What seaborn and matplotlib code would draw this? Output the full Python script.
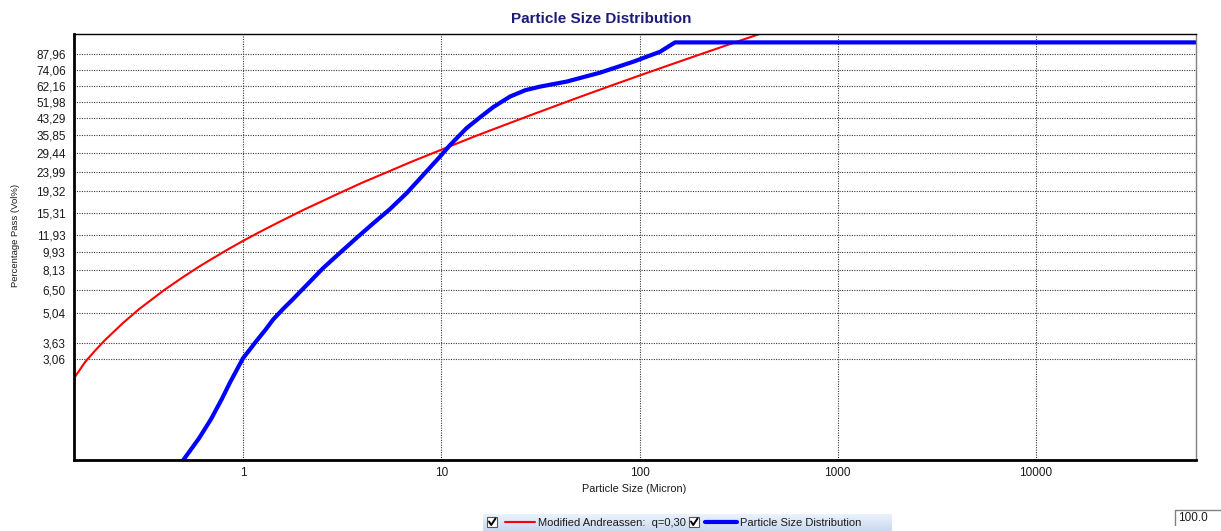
import numpy as np
import pandas as pd
import matplotlib
matplotlib.use("Agg")
import matplotlib.pyplot as plt
import seaborn as sns
from matplotlib.ticker import FixedLocator, NullLocator, FixedFormatter
from matplotlib.patches import Rectangle
from matplotlib.lines import Line2D

# Modified Andreassen model curve (q = 0.30)
andreassen_size = [0.14, 0.16, 0.18, 0.2, 0.25, 0.3, 0.4, 0.5, 0.6, 0.7, 0.85,
                   1, 1.2, 1.5, 2, 3, 4, 5, 7, 10, 15, 20, 30, 50, 70, 100,
                   150, 200, 300, 450]
andreassen_pass = [2.45, 2.95, 3.35, 3.73, 4.56, 5.29, 6.51, 7.53, 8.43, 9.21,
                   10.27, 11.2, 12.29, 13.7, 15.7, 18.8, 21.3, 23.3, 26.7,
                   30.6, 35.7, 39.6, 45.8, 54.8, 61.5, 69.4, 79.4, 87.3, 99.7,
                   113.7]

# Measured particle size distribution
psd_size = [0.50, 0.60, 0.69, 0.78, 0.86, 0.93, 1.0, 1.08, 1.17, 1.30, 1.42,
            1.60, 1.79, 2.00, 2.25, 2.54, 3.09, 3.75, 4.54, 5.51, 6.70, 8.12,
            9.86, 11.1, 13.4, 15.7, 18.3, 22.2, 26.5, 31.5, 42.9, 63.2, 93.0,
            127, 151, 64100]
psd_pass = [1.0, 1.27, 1.57, 1.95, 2.35, 2.70, 3.07, 3.37, 3.72, 4.21, 4.71,
            5.31, 5.90, 6.58, 7.38, 8.31, 9.84, 11.6, 13.6, 15.9, 19.0, 23.2,
            28.4, 32.3, 38.8, 43.8, 49.0, 55.0, 59.0, 61.4, 64.9, 71.6, 80.8,
            90.2, 100, 100]

series_names = ["Modified Andreassen:  q=0,30", "Particle Size Distribution"]
y_ticks = [3.06, 3.63, 5.04, 6.50, 8.13, 9.93, 11.93, 15.31, 19.32, 23.99,
           29.44, 35.85, 43.29, 51.98, 62.16, 74.06, 87.96]
x_ticks = [1, 10, 100, 1000, 10000]
x_tick_labels = ["1", "10", "100", "1000", "10000"]

W, H = 1221, 531

sns.set_theme(style="white")
plt.rcParams['font.family'] = ['Liberation Sans', 'DejaVu Sans']

fig = plt.figure(figsize=(W / 100, H / 100), dpi=100)
fig.patch.set_facecolor("white")


def fx(px):
    return px / W


def fy(py):
    return 1 - py / H


ax = fig.add_axes([fx(74), fy(460), fx(1196) - fx(74), fy(34) - fy(460)])

df = pd.concat([
    pd.DataFrame({"size": andreassen_size, "pass": andreassen_pass,
                  "series": series_names[0]}),
    pd.DataFrame({"size": psd_size, "pass": psd_pass,
                  "series": series_names[1]}),
], ignore_index=True)

sns.lineplot(data=df, x="size", y="pass", hue="series", size="series",
             hue_order=series_names, size_order=series_names,
             palette={series_names[0]: "#ff0000", series_names[1]: "#0000ff"},
             sizes={series_names[0]: 1.5, series_names[1]: 3.0},
             estimator=None, sort=False, legend=False, ax=ax)
for ln in ax.get_lines():
    ln.set_solid_joinstyle("round")

ax.set_xscale("log")
ax.set_yscale("log")
ax.set_xlim(0.1405, 64100)
ax.set_ylim(1.0, 109.7)

# y axis: fixed percentage ticks with comma decimals
ax.yaxis.set_major_locator(FixedLocator(y_ticks))
ax.yaxis.set_major_formatter(FixedFormatter([f"{v:.2f}".replace(".", ",") for v in y_ticks]))
ax.yaxis.set_minor_locator(NullLocator())

# x axis: decades plus a few minor marks inside each decade
ax.xaxis.set_major_locator(FixedLocator(x_ticks))
ax.xaxis.set_major_formatter(FixedFormatter(x_tick_labels))
minor = [10 ** (d + f) for d in range(0, 4) for f in (0.5, 0.75, 0.9)]
ax.xaxis.set_minor_locator(FixedLocator(minor))

ax.set_xlabel("")
ax.set_ylabel("")

ax.grid(True, which="major", axis="both", color="#3a3a3a",
        linestyle=(0, (1, 1.2)), linewidth=0.8)
ax.set_axisbelow(True)

ax.tick_params(axis="y", which="major", direction="out", length=4, width=0.8,
               color="#555555", labelsize=8.5, labelcolor="#1a1a1a", pad=2)
ax.tick_params(axis="x", which="major", direction="out", length=4, width=1.0,
               color="#999999", labelsize=8.5, labelcolor="#1a1a1a", pad=1)
ax.tick_params(axis="x", which="minor", direction="out", length=3, width=1.0,
               color="#999999")

for side in ("left", "bottom"):
    ax.spines[side].set_color("black")
    ax.spines[side].set_linewidth(2.0)
ax.spines["top"].set_color("black")
ax.spines["top"].set_linewidth(1.0)
ax.spines["right"].set_color("#808080")
ax.spines["right"].set_linewidth(1.0)

fig.text(fx(601), fy(19), "Particle Size Distribution", ha="center",
         va="center", fontsize=11, fontweight="bold", color="#1c1c78")
fig.text(fx(16), fy(235), "Percentage Pass (Vol%)", rotation=90,
         ha="center", va="center", fontsize=6.8, color="#1a1a1a")
fig.text(fx(634), fy(489), "Particle Size (Micron)", ha="center",
         va="center", fontsize=7.8, color="#1a1a1a")

# legend strip with check boxes
lg = fig.add_axes([fx(483), fy(531), fx(892) - fx(483), fy(514) - fy(531)])
lg.set_xlim(483, 892)
lg.set_ylim(531, 514)
lg.axis("off")
grad = np.linspace(0, 1, 32).reshape(-1, 1)
top_c = np.array([0.92, 0.95, 0.99])
bot_c = np.array([0.79, 0.85, 0.93])
img = top_c[None, None, :] * (1 - grad[:, :, None]) + bot_c[None, None, :] * grad[:, :, None]
lg.imshow(img, extent=(483, 892, 531, 514), aspect="auto", interpolation="bilinear")


def check_box(x0):
    lg.add_patch(Rectangle((x0, 517), 10, 10, facecolor="white",
                           edgecolor="#555555", linewidth=0.8))
    lg.add_line(Line2D([x0 + 2, x0 + 4.2, x0 + 8.5], [521.5, 525, 518.5],
                       color="black", linewidth=1.4))


check_box(487)
lg.add_line(Line2D([505, 535], [522, 522], color="#ff0000", linewidth=1.5))
lg.text(538, 522.5, series_names[0], ha="left", va="center", fontsize=8,
        color="#1a1a1a")
check_box(689)
lg.add_line(Line2D([705, 737], [522, 522], color="#0000ff", linewidth=3.0))
lg.text(740, 522.5, series_names[1], ha="left", va="center", fontsize=8,
        color="#1a1a1a")

# value box in the corner
vb = fig.add_axes([fx(1174), fy(526), fx(1221) - fx(1174), fy(509) - fy(526)])
vb.set_xlim(1174, 1221)
vb.set_ylim(526, 509)
vb.axis("off")
vb.add_patch(Rectangle((1174, 509), 60, 17, facecolor="white",
                       edgecolor="none"))
vb.add_line(Line2D([1174.5, 1174.5, 1221], [526, 509.5, 509.5],
                   color="#808080", linewidth=1.0))
vb.text(1178, 518, "100.0", ha="left", va="center", fontsize=8.5,
        color="#1a1a1a")

fig.savefig("out.png", dpi=100)
